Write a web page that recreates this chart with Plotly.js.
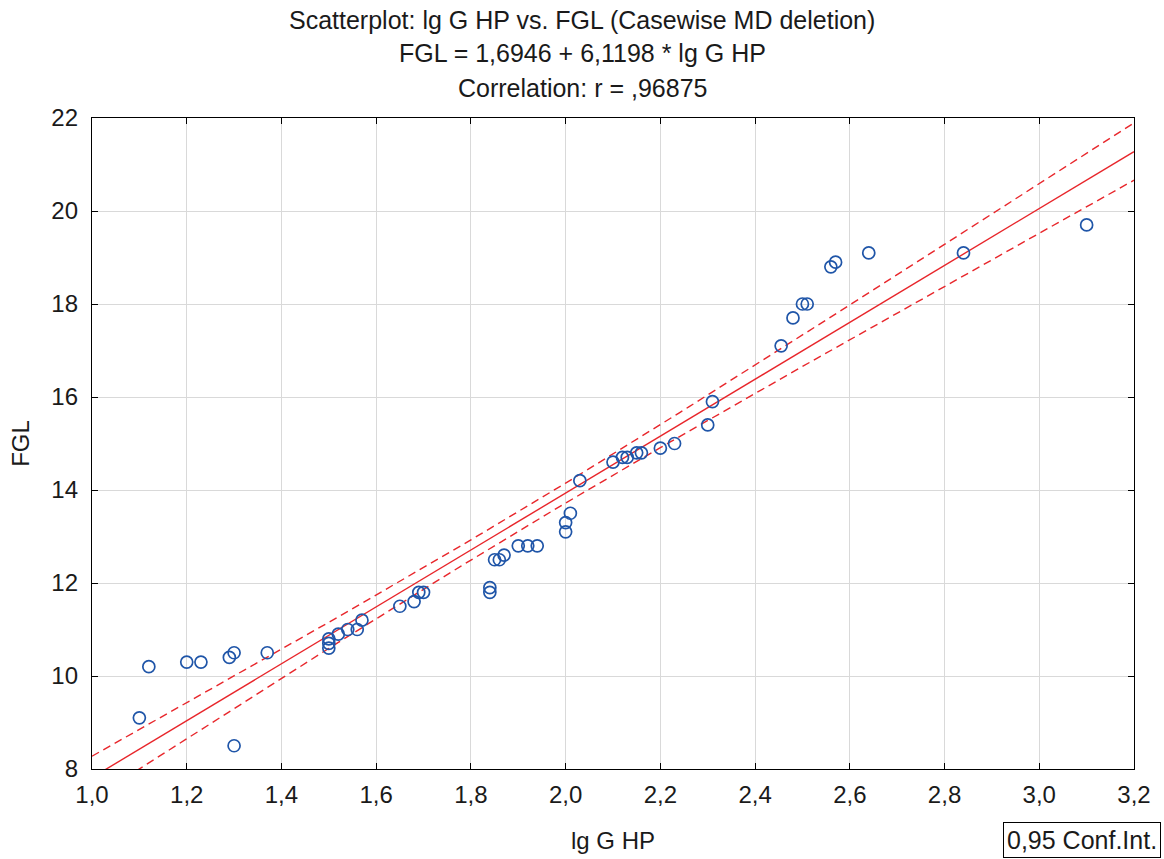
<!DOCTYPE html>
<html>
<head>
<meta charset="utf-8">
<script src="https://cdn.plot.ly/plotly-3.0.1.min.js"></script>
<style>html,body{margin:0;padding:0;background:#fff;}#chart{width:1164px;height:859px;}</style>
</head>
<body>
<div id="chart"></div>
<script>
const lgGHP = [1.10,1.12,1.20,1.23,1.29,1.30,1.30,1.37,1.50,1.50,1.50,1.52,1.54,1.56,1.57,1.65,1.68,1.69,1.70,1.84,1.84,1.85,1.86,1.87,1.90,1.92,1.94,2.00,2.00,2.01,2.03,2.10,2.12,2.13,2.15,2.16,2.20,2.23,2.30,2.31,2.455,2.48,2.50,2.51,2.56,2.57,2.64,2.84,3.10];
const FGL   = [9.1,10.2,10.3,10.3,10.4,10.5,8.5,10.5,10.8,10.7,10.6,10.9,11.0,11.0,11.2,11.5,11.6,11.8,11.8,11.9,11.8,12.5,12.5,12.6,12.8,12.8,12.8,13.1,13.3,13.5,14.2,14.6,14.7,14.7,14.8,14.8,14.9,15.0,15.4,15.9,17.1,17.7,18.0,18.0,18.8,18.9,19.1,19.1,19.7];

// Regression coefficients (from the chart title)
const intercept = 1.6946;
const slope = 6.1198;

// Title lines
const titleLines = ["Scatterplot: lg G HP vs. FGL (Casewise MD deletion)", "FGL = 1,6946 + 6,1198 * lg G HP", "Correlation: r = ,96875"];

// Axis ticks
const xTickVals = [1.0,1.2,1.4,1.6,1.8,2.0,2.2,2.4,2.6,2.8,3.0,3.2];
const xTickText = ["1,0","1,2","1,4","1,6","1,8","2,0","2,2","2,4","2,6","2,8","3,0","3,2"];
const yTickVals = [8,10,12,14,16,18,20,22];
const yTickText = ["8","10","12","14","16","18","20","22"];

// Fit line and 95% confidence band for the mean, from the data
const n = lgGHP.length;
const xbar = lgGHP.reduce((a,b)=>a+b,0)/n;
let sse = 0, sxx = 0;
for (let i=0;i<n;i++){ const r = FGL[i]-(intercept+slope*lgGHP[i]); sse += r*r; sxx += (lgGHP[i]-xbar)**2; }
const s = Math.sqrt(sse/(n-2));
const tcrit = 2.0117; // t(0.975, 47)
const lx=[], ly=[], lu=[], ll=[];
for (let k=0;k<=110;k++){
  const x = 1.0 + k*0.02;
  const yhat = intercept + slope*x;
  const h = tcrit*s*Math.sqrt(1/n + (x-xbar)**2/sxx);
  lx.push(x); ly.push(yhat); lu.push(yhat+h); ll.push(yhat-h);
}

const red = '#e8262b';
const blue = '#1f55a8';
const traces = [
  {x: lx, y: lu, mode:'lines', line:{color:red, width:1.4, dash:'8px,5px'}, hoverinfo:'skip'},
  {x: lx, y: ll, mode:'lines', line:{color:red, width:1.4, dash:'8px,5px'}, hoverinfo:'skip'},
  {x: lx, y: ly, mode:'lines', line:{color:red, width:1.4}, hoverinfo:'skip'},
  {x: lgGHP, y: FGL, mode:'markers', marker:{symbol:'circle-open', size:12, color:blue, line:{width:1.7, color:blue}}}
];

const font = "'Liberation Sans', Arial, sans-serif";
const txt = '#1a1a1a';
const plotH = 651;
function py(p){ return (769 - p)/plotH; } // pixel y -> paper y
function px(p){ return (p - 92)/1042; }  // pixel x -> paper x

const annotations = titleLines.map((t,i)=>({
  text:t, xref:'paper', yref:'paper', x:px(582), y:py([20,53,88][i]), xanchor:'center', yanchor:'middle',
  showarrow:false, font:{family:font, size:25, color:txt}
}));
annotations.push({text:'0,95 Conf.Int.', xref:'paper', yref:'paper', x:px(1161), y:py(822), xanchor:'right', yanchor:'top',
  showarrow:false, font:{family:font, size:25, color:txt}, bordercolor:'#000', borderwidth:1, borderpad:3, bgcolor:'#fff'});

const layout = {
  width:1164, height:859,
  margin:{l:92, r:30, t:118, b:90},
  showlegend:false,
  paper_bgcolor:'#fff', plot_bgcolor:'#fff',
  font:{family:font, size:23, color:txt},
  xaxis:{range:[1.0,3.2], tickmode:'array', tickvals:xTickVals, ticktext:xTickText,
         ticks:'inside', ticklen:6, tickcolor:'#000', mirror:'ticks', showline:true, linecolor:'#000', linewidth:1.2,
         showgrid:true, gridcolor:'#d9d9d9', gridwidth:1, zeroline:false, ticklabelstandoff:4,
         tickfont:{size:24, color:txt}, title:{text:'lg G HP', font:{size:24, color:txt}, standoff:25}},
  yaxis:{range:[8,22], tickmode:'array', tickvals:yTickVals, ticktext:yTickText,
         ticks:'inside', ticklen:6, tickcolor:'#000', mirror:'ticks', showline:true, linecolor:'#000', linewidth:1.2,
         showgrid:true, gridcolor:'#d9d9d9', gridwidth:1, zeroline:false, ticklabelstandoff:8,
         tickfont:{size:24, color:txt}, title:{text:'FGL', font:{size:24, color:txt}, standoff:14}},
  annotations: annotations
};
Plotly.newPlot('chart', traces, layout, {displayModeBar:false, staticPlot:true});
</script>
</body>
</html>
